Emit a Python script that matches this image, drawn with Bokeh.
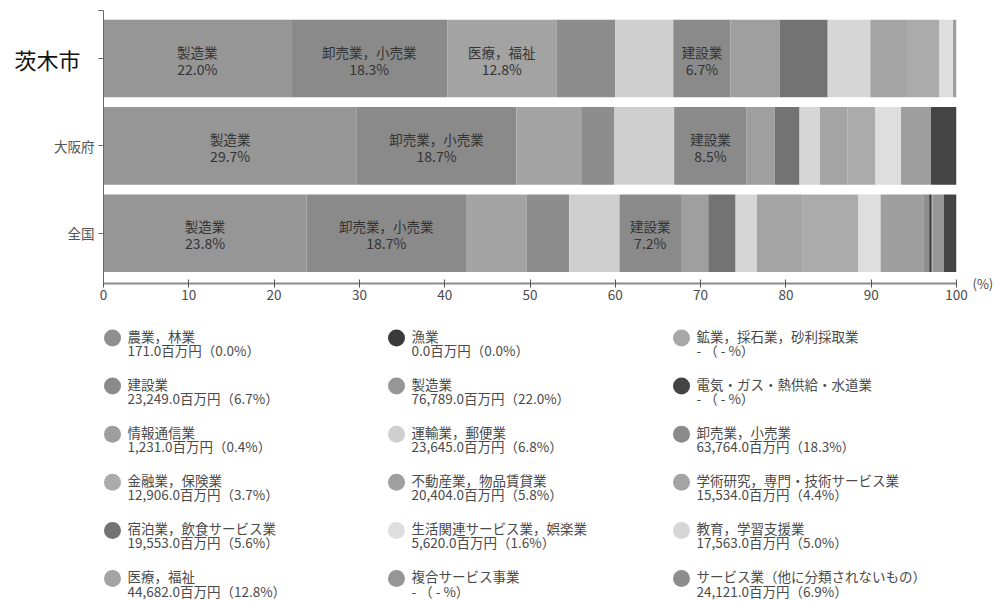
from bokeh.plotting import figure
from bokeh.models import ColumnDataSource, Range1d, FixedTicker, LinearAxis
from bokeh.layouts import column
from bokeh.core.properties import value
from bokeh.embed import file_html
from bokeh.resources import INLINE

FONT = "Noto Sans CJK JP"

# Industries in legend order
industries = [
    "農業，林業", "漁業", "鉱業，採石業，砂利採取業",
    "建設業", "製造業", "電気・ガス・熱供給・水道業",
    "情報通信業", "運輸業，郵便業", "卸売業，小売業",
    "金融業，保険業", "不動産業，物品賃貸業", "学術研究，専門・技術サービス業",
    "宿泊業，飲食サービス業", "生活関連サービス業，娯楽業", "教育，学習支援業",
    "医療，福祉", "複合サービス事業", "サービス業（他に分類されないもの）",
]

# 茨木市: value added (million yen) and share (%); None = not disclosed
ibaraki_amount = [171.0, 0.0, None, 23249.0, 76789.0, None, 1231.0, 23645.0, 63764.0,
                  12906.0, 20404.0, 15534.0, 19553.0, 5620.0, 17563.0, 44682.0, None, 24121.0]
ibaraki_pct = [0.0, 0.0, None, 6.7, 22.0, None, 0.4, 6.8, 18.3,
               3.7, 5.8, 4.4, 5.6, 1.6, 5.0, 12.8, None, 6.9]
# 大阪府 share (%)
osaka_pct = [0.0, 0.0, 0.0, 8.5, 29.7, 3.0, 3.5, 7.0, 18.7,
             3.3, 3.3, 3.2, 2.9, 3.0, 2.4, 7.6, 0.0, 3.9]
# 全国 share (%)
national_pct = [0.7, 0.3, 0.1, 7.2, 23.8, 1.5, 5.0, 5.9, 18.7,
                6.6, 3.2, 5.3, 3.2, 2.6, 2.5, 7.1, 1.3, 5.0]

colors = ["#8f8f8f", "#3a3a3a", "#a8a8a8", "#8a8a8a", "#969696", "#444444",
          "#9e9e9e", "#cfcfcf", "#8a8a8a", "#ababab", "#9f9f9f", "#a4a4a4",
          "#737373", "#dedede", "#d6d6d6", "#a3a3a3", "#969696", "#8d8d8d"]

regions = ["茨木市", "大阪府", "全国"]
region_y = [2, 1, 0]

# Stacking order of the segments, left to right
stack_order = [
    "製造業", "卸売業，小売業", "医療，福祉", "サービス業（他に分類されないもの）",
    "運輸業，郵便業", "建設業", "不動産業，物品賃貸業", "宿泊業，飲食サービス業",
    "教育，学習支援業", "学術研究，専門・技術サービス業", "金融業，保険業",
    "生活関連サービス業，娯楽業", "情報通信業", "農業，林業", "漁業",
    "鉱業，採石業，砂利採取業", "複合サービス事業", "電気・ガス・熱供給・水道業",
]

# Segments carrying an in-bar label
bar_labels = {
    "茨木市": ["製造業", "卸売業，小売業", "医療，福祉", "建設業"],
    "大阪府": ["製造業", "卸売業，小売業", "建設業"],
    "全国": ["製造業", "卸売業，小売業", "建設業"],
}

shares = {
    "茨木市": [v if v is not None else 0.0 for v in ibaraki_pct],
    "大阪府": osaka_pct,
    "全国": national_pct,
}

seg = dict(y=[], left=[], right=[], color=[])
lab = dict(x=[], y=[], name=[], pct=[])
for reg, yy in zip(regions, region_y):
    cum = 0.0
    for name in stack_order:
        i = industries.index(name)
        v = shares[reg][i]
        if v > 0:
            seg["y"].append(yy)
            seg["left"].append(cum)
            seg["right"].append(cum + v)
            seg["color"].append(colors[i])
            if name in bar_labels[reg]:
                lab["x"].append(cum + v / 2)
                lab["y"].append(yy)
                lab["name"].append(name)
                lab["pct"].append(f"{v:.1f}%")
        cum += v

Y_LO, Y_HI = -0.576, 2.55

p = figure(width=999, height=315, output_backend="svg", toolbar_location=None,
           x_range=Range1d(0, 100), y_range=Range1d(Y_LO, Y_HI),
           min_border_left=103, min_border_right=43, min_border_top=10,
           min_border_bottom=32)
p.outline_line_color = None
p.xgrid.visible = False
p.ygrid.visible = False
p.background_fill_color = "white"

p.hbar(y="y", left="left", right="right", height=0.888, fill_color="color",
       line_color=None, source=ColumnDataSource(seg))

ls = ColumnDataSource(lab)
p.text(x="x", y="y", text="name", source=ls, text_align="center",
       text_baseline="middle", y_offset=-7, text_font=value(FONT),
       text_font_size="13.5px", text_color="#333333")
p.text(x="x", y="y", text="pct", source=ls, text_align="center",
       text_baseline="middle", y_offset=10, text_font=value(FONT),
       text_font_size="14px", text_color="#333333")

# x axis
p.xaxis.ticker = FixedTicker(ticks=list(range(0, 101, 10)), minor_ticks=[])
p.xaxis.axis_line_color = "#8c8c8c"
p.xaxis.axis_line_width = 2
p.xaxis.major_tick_line_color = "#555555"
p.xaxis.major_tick_in = 4
p.xaxis.major_tick_out = 4
p.xaxis.major_label_standoff = 2
p.xaxis.major_label_text_font = FONT
p.xaxis.major_label_text_font_size = "13.5px"
p.xaxis.major_label_text_color = "#4a4a4a"

# y axis: region names (the city name gets its own, larger label below)
p.yaxis.ticker = FixedTicker(ticks=region_y, minor_ticks=[Y_HI - 0.005])
p.yaxis.major_label_overrides = {2: "", 1: "大阪府", 0: "全国"}
p.yaxis.axis_line_color = "#666666"
p.yaxis.major_tick_line_color = "#666666"
p.yaxis.minor_tick_line_color = "#666666"
p.yaxis.major_tick_in = 0
p.yaxis.major_tick_out = 5
p.yaxis.minor_tick_in = 0
p.yaxis.minor_tick_out = 5
p.yaxis.major_label_standoff = 4
p.yaxis.major_label_text_font = FONT
p.yaxis.major_label_text_font_size = "13.5px"
p.yaxis.major_label_text_color = "#555555"

# city name in a larger, black face
city_axis = LinearAxis(ticker=FixedTicker(ticks=[2], minor_ticks=[]),
                       major_label_overrides={2: "茨木市"},
                       axis_line_color=None, major_tick_line_color=None,
                       major_tick_in=0, major_tick_out=0,
                       major_label_standoff=-29,
                       major_label_text_font=FONT,
                       major_label_text_font_size="22px",
                       major_label_text_color="#111111")
p.add_layout(city_axis, "left")

# unit marker to the right of the x axis
unit_axis = LinearAxis(ticker=FixedTicker(ticks=[Y_LO + 0.001], minor_ticks=[]),
                       major_label_overrides={Y_LO + 0.001: "(%)"},
                       axis_line_color=None, major_tick_line_color=None,
                       major_tick_in=0, major_tick_out=0,
                       major_label_standoff=16,
                       major_label_text_baseline="top",
                       major_label_text_font=FONT,
                       major_label_text_font_size="13px",
                       major_label_text_color="#4a4a4a")
p.add_layout(unit_axis, "right")

# Legend panel, drawn in pixel coordinates (y grows downward)
X0, X1 = 103, 956
lg = figure(width=999, height=286, output_backend="svg", toolbar_location=None,
            x_range=Range1d(X0, X1), y_range=Range1d(601, 315),
            min_border_left=X0, min_border_right=999 - X1,
            min_border_top=0, min_border_bottom=0)
lg.axis.visible = False
lg.xgrid.visible = False
lg.ygrid.visible = False
lg.outline_line_color = None

col_x = [112, 396, 681]
row_y0, row_dy = 337.5, 48.1


def fmt_amount(a, pct):
    if a is None:
        return " - （ - %）"
    return f"{a:,.1f}百万円（{pct:.1f}%）"


leg = dict(cx=[], cy=[], tx=[], t1=[], t2=[], color=[])
for k, name in enumerate(industries):
    r, c = divmod(k, 3)
    cx = col_x[c]
    cy = row_y0 + r * row_dy
    leg["cx"].append(cx)
    leg["cy"].append(cy)
    leg["tx"].append(cx + 15)
    leg["t1"].append(name)
    leg["t2"].append(fmt_amount(ibaraki_amount[k], ibaraki_pct[k]))
    leg["color"].append(colors[k])

lsrc = ColumnDataSource(leg)
lg.scatter(x="cx", y="cy", size=17, fill_color="color", line_color=None, source=lsrc)
lg.text(x="tx", y="cy", text="t1", source=lsrc, text_align="left",
        text_baseline="middle", y_offset=-2.5, text_font=value(FONT),
        text_font_size="13.5px", text_color="#4a4a4a")
lg.text(x="tx", y="cy", text="t2", source=lsrc, text_align="left",
        text_baseline="middle", y_offset=12, text_font=value(FONT),
        text_font_size="13.5px", text_color="#4a4a4a")

layout = column(p, lg, spacing=0)
open("out.html", "w").write(file_html(layout, INLINE))
